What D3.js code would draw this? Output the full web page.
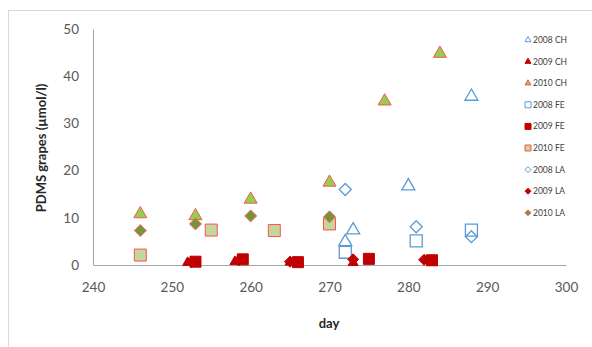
<!DOCTYPE html>
<html>
<head>
<meta charset="utf-8">
<script src="https://cdn.jsdelivr.net/npm/d3@7"></script>
<style>
  body { margin: 0; background: #fff; }
  svg { display: block; font-family: Lato, "Open Sans", sans-serif; }
</style>
</head>
<body>
<div id="chart"></div>
<script>
// ---------- data (day, PDMS grapes µmol/l) ----------
const ch2008 = [[272, 4.9], [273, 7.4], [280, 16.7], [288, 35.7]];
const ch2009 = [[252, 0.5], [258, 0.7], [265, 0.6], [273, 0.5], [283, 0.8]];
const ch2010 = [[246, 10.8], [253, 10.4], [260, 13.9], [270, 17.5], [277, 34.7], [284, 44.8]];
const fe2008 = [[272, 2.7], [281, 5.1], [288, 7.4]];
const fe2009 = [[253, 0.7], [259, 1.2], [266, 0.6], [275, 1.3], [283, 1.0]];
const fe2010 = [[246, 2.1], [255, 7.4], [263, 7.3], [270, 8.7]];
const la2008 = [[272, 16.0], [281, 8.1], [288, 6.0]];
const la2009 = [[252.5, 0.6], [258.5, 1.0], [265, 0.7], [273, 1.2], [282, 1.1]];
const la2010 = [[246, 7.3], [253, 8.7], [260, 10.4], [270, 10.2]];

const xTicks = [240, 250, 260, 270, 280, 290, 300];
const yTicks = [0, 10, 20, 30, 40, 50];

// series styling, in legend order
const series = [
  { name: "2008 CH", data: ch2008, shape: "tri", fill: "none", stroke: "#5b9bd5" },
  { name: "2009 CH", data: ch2009, shape: "tri", fill: "#c00000", stroke: "#c00000" },
  { name: "2010 CH", data: ch2010, shape: "tri", fill: "#92d050", stroke: "#ff5050" },
  { name: "2008 FE", data: fe2008, shape: "sq", fill: "none", stroke: "#5b9bd5" },
  { name: "2009 FE", data: fe2009, shape: "sq", fill: "#c00000", stroke: "#c00000" },
  { name: "2010 FE", data: fe2010, shape: "sq", fill: "#c3d69b", stroke: "#ff5050" },
  { name: "2008 LA", data: la2008, shape: "dia", fill: "none", stroke: "#5b9bd5" },
  { name: "2009 LA", data: la2009, shape: "dia", fill: "#c00000", stroke: "#c00000" },
  { name: "2010 LA", data: la2010, shape: "dia", fill: "#77933c", stroke: "#ff6666" }
];

// ---------- svg ----------
const width = 592;
const height = 347;
const svg = d3.select("#chart").append("svg")
  .attr("width", width)
  .attr("height", height);

// chart border
svg.append("rect")
  .attr("x", 8.5).attr("y", 10.5)
  .attr("width", 600).attr("height", 400)
  .attr("fill", "none")
  .attr("stroke", "#d9d9d9");

const x = d3.scaleLinear().domain([240, 300]).range([93, 566]);
const y = d3.scaleLinear().domain([0, 50]).range([265, 29]);

// axes
const xAxis = svg.append("g")
  .attr("transform", "translate(0,265)")
  .call(d3.axisBottom(x).tickValues(xTicks).tickSize(0).tickPadding(17));
const yAxis = svg.append("g")
  .attr("transform", "translate(93,0)")
  .call(d3.axisLeft(y).tickValues(yTicks).tickSize(0).tickPadding(14));

[xAxis, yAxis].forEach(g => {
  g.select(".domain").attr("stroke", "#a6a6a6");
  g.selectAll("text")
    .attr("fill", "#595959")
    .style("font-size", "13.5px")
    .style("font-family", "Lato, sans-serif");
});

// axis titles
svg.append("text")
  .attr("transform", "translate(46,148) rotate(-90)")
  .attr("text-anchor", "middle")
  .style("font-size", "13px")
  .style("font-weight", "bold")
  .attr("fill", "#262626")
  .text("PDMS grapes (µmol/l)");

svg.append("text")
  .attr("x", 329).attr("y", 328)
  .attr("text-anchor", "middle")
  .style("font-size", "13px")
  .style("font-weight", "bold")
  .attr("fill", "#262626")
  .text("day");

// marker shapes
function shapePath(shape, w) {
  if (shape === "tri") {
    return d3.symbol().type(d3.symbolTriangle).size(w * w * Math.sqrt(3) / 4)();
  }
  if (shape === "sq") {
    return d3.symbol().type(d3.symbolSquare).size(w * w)();
  }
  // diamond: square rotated 45deg, w = tip-to-tip width
  const h = w / 2;
  return `M0,${-h}L${h},0L0,${h}L${-h},0Z`;
}

function markerWidth(s) {
  if (s.fill === "#c00000") return s.shape === "tri" ? 10 : s.shape === "sq" ? 11 : 11;
  return s.shape === "tri" ? 13 : s.shape === "sq" ? 12 : 12;
}

// plot points
series.forEach(s => {
  svg.append("g")
    .selectAll("path")
    .data(s.data)
    .join("path")
    .attr("d", shapePath(s.shape, markerWidth(s)))
    .attr("transform", d => `translate(${x(d[0])},${y(d[1])})`)
    .attr("fill", s.fill)
    .attr("stroke", s.stroke)
    .attr("stroke-width", s.fill === "none" ? 1.3 : 1);
});

// legend
const legend = svg.append("g")
  .selectAll("g")
  .data(series)
  .join("g")
  .attr("transform", (d, i) => `translate(528,${40 + i * 21.6})`);

legend.append("path")
  .attr("d", d => shapePath(d.shape, 6))
  .attr("fill", d => d.fill)
  .attr("stroke", d => d.stroke)
  .attr("stroke-width", 1);

legend.append("text")
  .attr("x", 5)
  .attr("dy", "0.35em")
  .style("font-size", "8.5px")
  .attr("fill", "#404040")
  .text(d => d.name);
</script>
</body>
</html>
